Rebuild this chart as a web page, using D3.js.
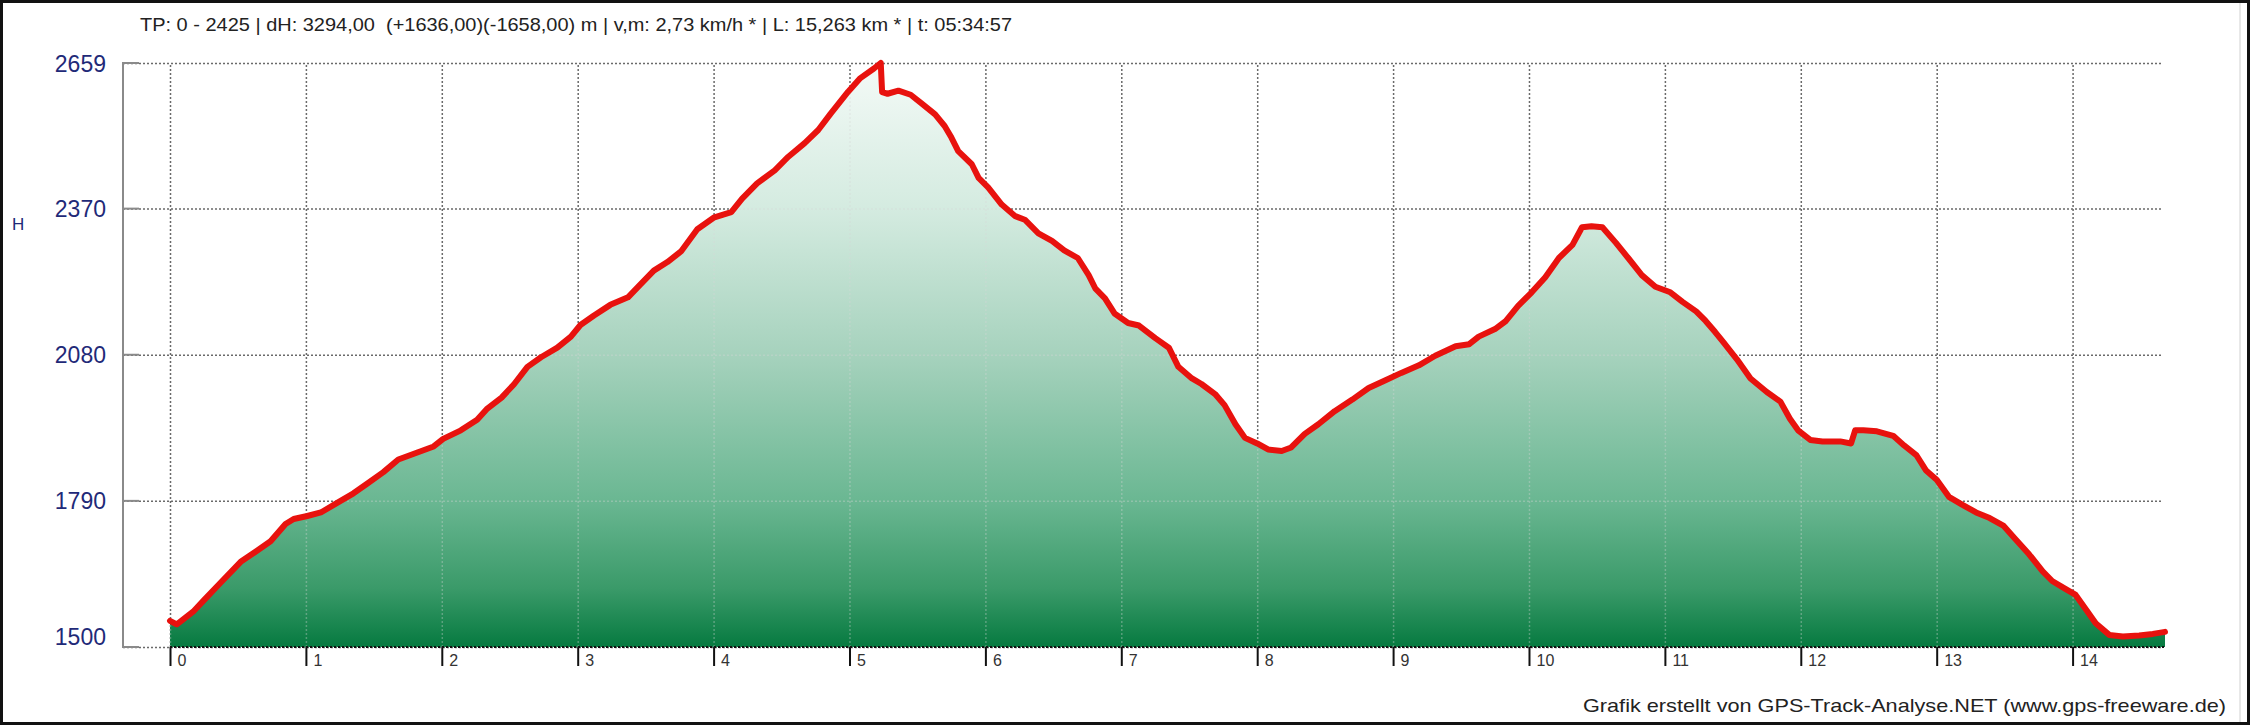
<!DOCTYPE html>
<html>
<head>
<meta charset="utf-8">
<script src="https://cdn.jsdelivr.net/npm/d3@7"></script>
<style>
  html, body { margin: 0; padding: 0; background: #fff; }
  svg { display: block; font-family: "Liberation Sans", Arial, sans-serif; }
</style>
</head>
<body>
<div id="chart"></div>
<script>
// --- data ---
const distanceKm = [
  0.00, 0.05, 0.17, 0.25, 0.37, 0.52, 0.64, 0.74, 0.85, 0.91, 1.01, 1.11, 1.23, 1.35, 1.45, 1.57,
  1.68, 1.79, 1.94, 2.01, 2.14, 2.26, 2.33, 2.44, 2.53, 2.63, 2.73, 2.85, 2.95, 3.02, 3.12, 3.24,
  3.37, 3.46, 3.56, 3.66, 3.76, 3.88, 4.00, 4.13, 4.21, 4.32, 4.45, 4.55, 4.67, 4.77, 4.86, 4.99,
  5.08, 5.18, 5.23, 5.24, 5.28, 5.36, 5.45, 5.53, 5.63, 5.70, 5.75, 5.80, 5.90, 5.95, 6.02, 6.12,
  6.22, 6.29, 6.39, 6.49, 6.58, 6.68, 6.76, 6.81, 6.88, 6.95, 7.05, 7.13, 7.25, 7.35, 7.42, 7.52,
  7.59, 7.69, 7.76, 7.84, 7.91, 8.00, 8.08, 8.18, 8.25, 8.35, 8.45, 8.57, 8.70, 8.82, 8.94, 9.06,
  9.19, 9.31, 9.46, 9.56, 9.63, 9.75, 9.83, 9.92, 10.02, 10.12, 10.22, 10.32, 10.39, 10.46, 10.54,
  10.64, 10.73, 10.83, 10.93, 11.04, 11.13, 11.23, 11.30, 11.37, 11.43, 11.53, 11.63, 11.75, 11.85,
  11.92, 11.98, 12.07, 12.16, 12.29, 12.37, 12.40, 12.46, 12.56, 12.68, 12.76, 12.85, 12.92, 13.00,
  13.09, 13.19, 13.29, 13.39, 13.49, 13.58, 13.68, 13.78, 13.85, 13.95, 14.02, 14.10, 14.17, 14.27,
  14.37, 14.49, 14.59, 14.68
];
const elevation = [
  1552, 1545, 1570, 1593, 1627, 1669, 1691, 1710, 1744, 1754, 1760, 1767, 1786, 1805, 1824, 1847,
  1872, 1883, 1898, 1913, 1930, 1951, 1972, 1995, 2021, 2056, 2075, 2094, 2116, 2139, 2158, 2179,
  2194, 2219, 2247, 2264, 2285, 2329, 2352, 2363, 2390, 2420, 2446, 2473, 2500, 2526, 2558, 2602,
  2629, 2648, 2659, 2601, 2598, 2604, 2596, 2579, 2557, 2534, 2511, 2484, 2458, 2431, 2412, 2378,
  2355, 2348, 2321, 2306, 2287, 2272, 2238, 2211, 2192, 2162, 2143, 2138, 2113, 2094, 2056, 2033,
  2022, 2002, 1980, 1942, 1915, 1904, 1892, 1889, 1896, 1923, 1942, 1968, 1991, 2014, 2029, 2044,
  2059, 2078, 2097, 2101, 2116, 2131, 2147, 2177, 2204, 2234, 2272, 2298, 2333, 2335, 2333,
  2302, 2272, 2238, 2215, 2204, 2185, 2166, 2147, 2125, 2105, 2071, 2033, 2006, 1987,
  1953, 1930, 1911, 1908, 1908, 1904, 1930, 1930, 1928, 1919, 1900, 1881, 1851, 1832,
  1798, 1782, 1767, 1756, 1741, 1714, 1684, 1650, 1631, 1615, 1604, 1574, 1547, 1524,
  1521, 1523, 1526, 1530
];
const yTickValues = [1500, 1790, 2080, 2370, 2659];
const xTickValues = [0, 1, 2, 3, 4, 5, 6, 7, 8, 9, 10, 11, 12, 13, 14];
const titleText = "TP: 0 - 2425 | dH: 3294,00  (+1636,00)(-1658,00) m | v,m: 2,73 km/h * | L: 15,263 km * | t: 05:34:57";
const creditText = "Grafik erstellt von GPS-Track-Analyse.NET (www.gps-freeware.de)";
const yAxisTitle = "H";

// --- svg and scales ---
const width = 2250, height = 725;
const axisLeftX = 123;
const gridRight = 2162;

const svg = d3.select('#chart')
  .append('svg')
  .attr('width', width)
  .attr('height', height);

svg.append('rect').attr('width', width).attr('height', height).attr('fill', '#fff');

const xScale = d3.scaleLinear().domain([0, 14.68]).range([170, 2165]);
const yScale = d3.scaleLinear().domain([1500, 2659]).range([647, 63]);
const yBottom = yScale(1500), yTop = yScale(2659);

const points = distanceKm.map((k, i) => ({ km: k, h: elevation[i] }));

// gradient for the area
const defs = svg.append('defs');
const grad = defs.append('linearGradient')
  .attr('id', 'fillGrad')
  .attr('gradientUnits', 'userSpaceOnUse')
  .attr('x1', 0).attr('x2', 0)
  .attr('y1', yTop).attr('y2', yBottom);
[[0, '#f4faf7'], [0.25, '#d4ebe0'], [0.5, '#a6d2bd'], [0.75, '#6ab792'], [0.9, '#3a9a69'], [1, '#067a40']]
  .forEach(s => grad.append('stop').attr('offset', s[0]).attr('stop-color', s[1]));

const area = d3.area()
  .x(d => xScale(d.km))
  .y0(yBottom)
  .y1(d => yScale(d.h));

const line = d3.line()
  .x(d => xScale(d.km))
  .y(d => yScale(d.h));

defs.append('clipPath').attr('id', 'areaClip')
  .append('path').attr('d', area(points));

// gridlines (drawn twice: dark on white, light over the fill)
function drawGrid(g, color, opacity) {
  g.append('g')
    .attr('transform', `translate(${axisLeftX},0)`)
    .call(d3.axisLeft(yScale).tickValues(yTickValues).tickSize(-(gridRight - axisLeftX)).tickFormat(''))
    .call(s => s.select('.domain').remove());
  g.append('g')
    .attr('transform', `translate(0,${yBottom})`)
    .call(d3.axisBottom(xScale).tickValues(xTickValues).tickSize(-(yBottom - yTop)).tickFormat(''))
    .call(s => s.select('.domain').remove());
  g.selectAll('line')
    .attr('stroke', color)
    .attr('stroke-opacity', opacity)
    .attr('stroke-width', 1.5)
    .attr('stroke-dasharray', '2,2');
}

drawGrid(svg.append('g').attr('class', 'grid'), '#6a6a6a', 1);

svg.append('path')
  .attr('d', area(points))
  .attr('fill', 'url(#fillGrad)');

drawGrid(svg.append('g').attr('class', 'grid-over').attr('clip-path', 'url(#areaClip)'), '#d8d8d8', 0.35);

// x axis base line (dotted black)
svg.append('line')
  .attr('x1', xScale(0)).attr('x2', xScale(14.68))
  .attr('y1', yBottom).attr('y2', yBottom)
  .attr('stroke', '#111').attr('stroke-width', 2).attr('stroke-dasharray', '2,2');

// elevation line
svg.append('path')
  .attr('d', line(points))
  .attr('fill', 'none')
  .attr('stroke', '#e8120e')
  .attr('stroke-width', 6)
  .attr('stroke-linejoin', 'round')
  .attr('stroke-linecap', 'round');

// y axis line and short solid stubs
svg.append('line')
  .attr('x1', axisLeftX).attr('x2', axisLeftX)
  .attr('y1', yTop - 1).attr('y2', yBottom + 1)
  .attr('stroke', '#8a8a8a').attr('stroke-width', 2);
svg.selectAll('.ystub').data(yTickValues).enter()
  .append('line')
  .attr('class', 'ystub')
  .attr('x1', axisLeftX).attr('x2', axisLeftX + 16)
  .attr('y1', d => yScale(d)).attr('y2', d => yScale(d))
  .attr('stroke', '#8a8a8a').attr('stroke-width', 2);

// y labels
const yAxisG = svg.append('g')
  .attr('transform', `translate(${axisLeftX},0)`)
  .call(d3.axisLeft(yScale).tickValues(yTickValues).tickSize(0).tickPadding(17).tickFormat(d3.format('d')));
yAxisG.select('.domain').remove();
yAxisG.selectAll('text')
  .attr('fill', '#1f2a78')
  .style('font-size', '23px')
  .style('font-family', '"Liberation Sans", Arial, sans-serif')
  .attr('dy', d => d === 1500 ? '-0.1em' : '0.35em');

// x axis ticks and labels
const xAxisG = svg.append('g')
  .attr('transform', `translate(0,${yBottom})`)
  .call(d3.axisBottom(xScale).tickValues(xTickValues).tickSize(19).tickFormat(d3.format('d')));
xAxisG.select('.domain').remove();
xAxisG.selectAll('line').attr('stroke', '#111').attr('stroke-width', 2);
xAxisG.selectAll('text')
  .attr('fill', '#333')
  .attr('x', 7)
  .attr('y', 8)
  .attr('text-anchor', 'start')
  .style('font-size', '16px')
  .style('font-family', '"Liberation Sans", Arial, sans-serif');

// axis title, header and credit
svg.append('text')
  .attr('x', 12).attr('y', 224)
  .attr('dy', '0.35em')
  .attr('fill', '#1f2a78')
  .style('font-size', '17px')
  .text(yAxisTitle);

svg.append('text')
  .attr('x', 140).attr('y', 31)
  .attr('fill', '#222')
  .attr('textLength', 872)
  .attr('lengthAdjust', 'spacingAndGlyphs')
  .style('font-size', '19px')
  .style('white-space', 'pre')
  .text(titleText);

svg.append('text')
  .attr('x', 1583).attr('y', 712)
  .attr('fill', '#222')
  .attr('textLength', 643)
  .attr('lengthAdjust', 'spacingAndGlyphs')
  .style('font-size', '19px')
  .text(creditText);

// thin light line inside the right edge, then the dark frame
svg.append('line')
  .attr('x1', 2240).attr('x2', 2240)
  .attr('y1', 3).attr('y2', height - 3)
  .attr('stroke', '#d0d0d0').attr('stroke-width', 1);
svg.append('rect')
  .attr('x', 0).attr('y', 0)
  .attr('width', width).attr('height', height)
  .attr('fill', 'none')
  .attr('stroke', '#111')
  .attr('stroke-width', 6);
</script>
</body>
</html>
